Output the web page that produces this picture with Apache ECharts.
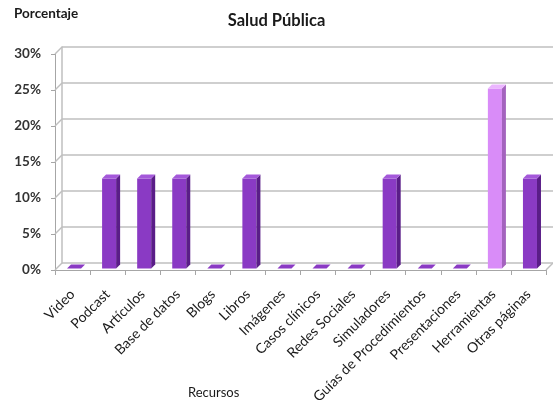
<!DOCTYPE html>
<html>
<head>
<meta charset="utf-8">
<script src="https://cdn.jsdelivr.net/npm/echarts@6/dist/echarts.min.js"></script>
<style>html,body{margin:0;padding:0;background:#fff}#c{width:553px;height:400px}</style>
</head>
<body>
<div id="c"></div>
<script>
const categories = ['Video','Podcast','Artículos','Base de datos','Blogs','Libros','Imágenes','Casos clínicos','Redes Sociales','Simuladores','Guías de Procedimientos','Presentaciones','Herramientas','Otras páginas'];
const values = [0, 12.5, 12.5, 12.5, 0, 12.5, 0, 0, 0, 12.5, 0, 0, 25, 12.5];
const yTicks = [0, 5, 10, 15, 20, 25, 30];
const highlighted = ['Herramientas'];

const FONT = 'Lato, "Open Sans", sans-serif';
const DEPTH = 7;     // wall depth offset (px)
const BAR_D = 4;     // bar depth offset (px)
const normalFace = {front:'#8A3AC4', side:'#5A1D88', top:'#A458DA'};
const lightFace = {front:'#D98CF8', side:'#A463BE', top:'#EBB5FF'};

const chart = echarts.init(document.getElementById('c'), null, {renderer:'canvas'});

chart.setOption({
  animation: false,
  title: [
    {text:'Salud Pública', left:'center', top:12, padding:0, textStyle:{fontFamily:FONT, fontSize:16.5, fontWeight:'bold', color:'#1a1a1a'}},
    {text:'Porcentaje', left:14, top:7, padding:0, textStyle:{fontFamily:FONT, fontSize:13.5, fontWeight:'bold', color:'#1a1a1a'}},
    {text:'Recursos', left:188, top:386, padding:0, textStyle:{fontFamily:FONT, fontSize:13, fontWeight:'normal', color:'#1a1a1a'}}
  ],
  grid: [
    {left:55, right:7, top:54, bottom:130, containLabel:false, outerBoundsMode:'none'},
    {left:55+DEPTH, right:0, top:54-DEPTH, bottom:130+DEPTH, containLabel:false, outerBoundsMode:'none'}
  ],
  xAxis: [
    {type:'category', gridIndex:0, data:categories, boundaryGap:true,
     axisLine:{show:true, lineStyle:{color:'#A6A6A6', width:1}},
     axisTick:{show:true, length:5, lineStyle:{color:'#A6A6A6'}},
     axisLabel:{rotate:45, interval:0, margin:22, fontFamily:FONT, fontSize:14, color:'#1a1a1a'}},
    {type:'category', gridIndex:1, data:categories, show:false}
  ],
  yAxis: [
    {type:'value', gridIndex:0, min:0, max:30, interval:5,
     axisLine:{show:true, lineStyle:{color:'#A6A6A6', width:1}},
     axisTick:{show:true, length:4, lineStyle:{color:'#A6A6A6'}},
     splitLine:{show:false},
     axisLabel:{margin:14, formatter:'{value}%', fontFamily:FONT, fontSize:13.5, fontWeight:'bold', color:'#333'}},
    {type:'value', gridIndex:1, min:0, max:30, interval:5,
     axisLine:{show:true, lineStyle:{color:'#BFBFBF', width:1.5}},
     axisTick:{show:false}, axisLabel:{show:false},
     splitLine:{show:true, lineStyle:{color:'#BFBFBF', width:1.5}}}
  ],
  series: [
    {
      type:'custom', xAxisIndex:0, yAxisIndex:0, silent:true, z:1,
      data: yTicks.map(v => [v]),
      encode:{y:0},
      renderItem: function(params, api){
        const cs = params.coordSys;
        const v = api.value(0);
        const y = api.coord([0, v])[1];
        const children = [{
          type:'line', shape:{x1:cs.x, y1:y, x2:cs.x+DEPTH, y2:y-DEPTH},
          style:{stroke:'#BFBFBF', lineWidth:1.5}
        }];
        if (v === 0) {
          children.push({type:'line', shape:{x1:cs.x+cs.width, y1:y, x2:cs.x+cs.width+DEPTH, y2:y-DEPTH},
            style:{stroke:'#BFBFBF', lineWidth:1.5}});
        }
        return {type:'group', children};
      }
    },
    {
      type:'custom', xAxisIndex:0, yAxisIndex:0, z:3,
      data: values.map((v,i) => [i, v]),
      encode:{x:0, y:1},
      renderItem: function(params, api){
        const idx = api.value(0), v = api.value(1);
        const base = api.coord([idx, 0]);
        const tp = api.coord([idx, v]);
        const bw = api.size([1, 0])[0] * 0.4;
        const shift = (DEPTH - BAR_D) / 2;
        const left = base[0] - bw/2 + shift;
        const right = left + bw;
        const bottom = base[1] - shift;
        const top = tp[1] - shift;
        const d = BAR_D;
        const c = highlighted.indexOf(categories[idx]) >= 0 ? lightFace : normalFace;
        const kids = [];
        if (bottom - top > 0.5) {
          kids.push({type:'rect', shape:{x:left, y:top, width:bw, height:bottom-top}, style:{fill:c.front}});
          kids.push({type:'polygon', shape:{points:[[right,top],[right+d,top-d],[right+d,bottom-d],[right,bottom]]}, style:{fill:c.side}});
          kids.push({type:'polygon', shape:{points:[[left,top],[left+d,top-d],[right+d,top-d],[right,top]]}, style:{fill:c.top}});
        } else {
          kids.push({type:'polygon', shape:{points:[[left,top],[left+d,top-d],[right+d,top-d],[right,top]]}, style:{fill:c.front}});
        }
        return {type:'group', children:kids};
      }
    }
  ]
});
</script>
</body>
</html>
